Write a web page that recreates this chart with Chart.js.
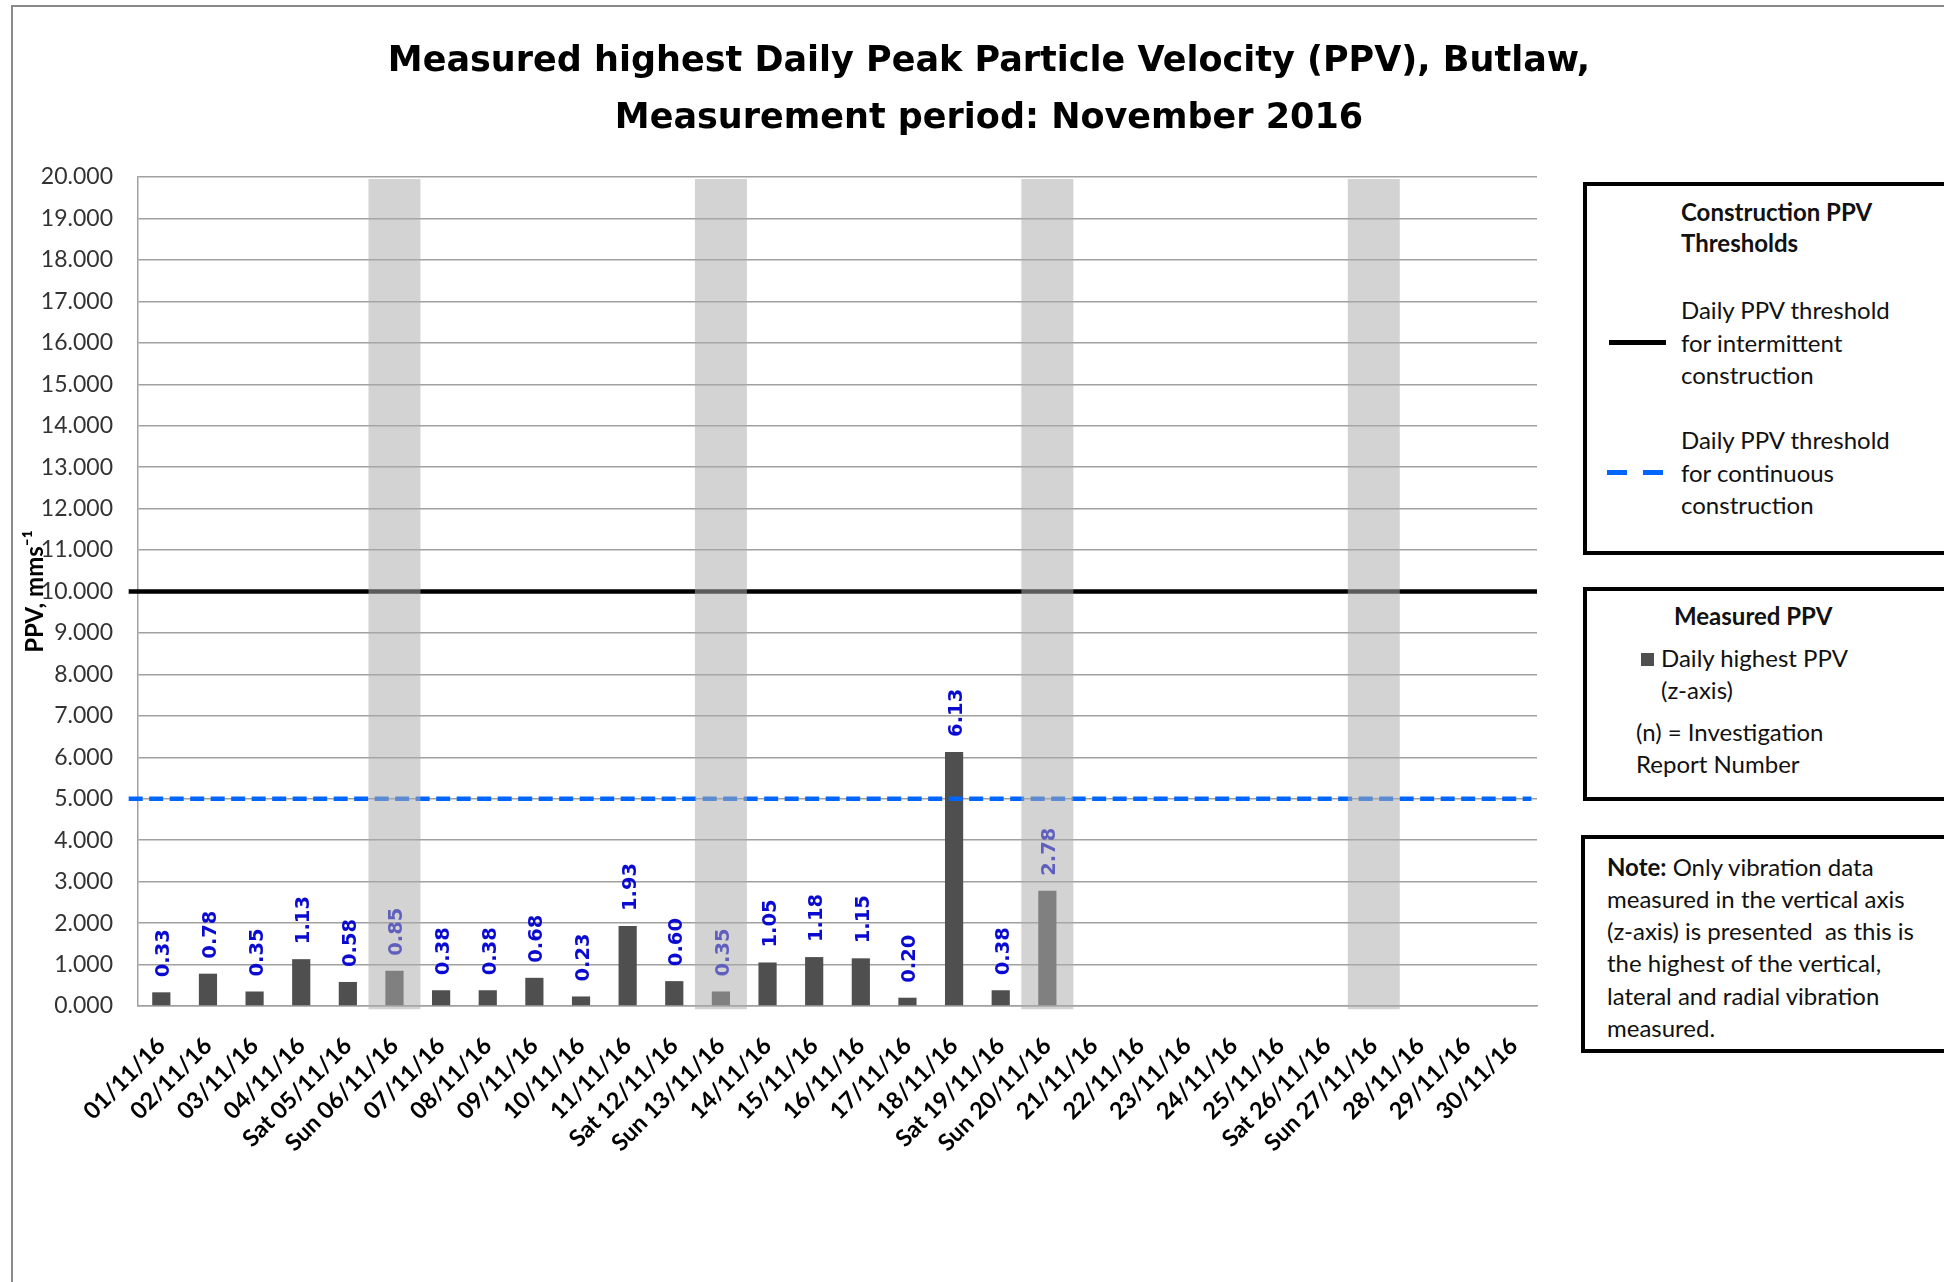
<!DOCTYPE html>
<html><head><meta charset="utf-8">
<script src="https://cdn.jsdelivr.net/npm/chart.js@4.4.1/dist/chart.umd.min.js"></script>
<style>
html,body{margin:0;padding:0;background:#fff;}
body{width:1944px;height:1282px;position:relative;overflow:hidden;font-family:Lato,sans-serif;color:#000;}
#c{position:absolute;left:0;top:0;}
.frame{position:absolute;left:11px;top:5px;width:2100px;height:1400px;border-top:2.5px solid #898989;border-left:2.5px solid #898989;}
.box{position:absolute;border:4px solid #000;background:#fff;box-sizing:border-box;}
.t{position:absolute;white-space:nowrap;font-size:24px;line-height:32px;height:32px;color:#111;}
.b{font-weight:bold;}
.ln{position:absolute;height:5px;}
</style></head><body>
<div class="frame"></div>
<canvas id="c" width="1944" height="1282"></canvas>

<div class="box" style="left:1583px;top:182px;width:420px;height:373px;"></div>
<div class="t b" style="left:1681px;top:196px;">Construction PPV</div>
<div class="t b" style="left:1681px;top:227px;">Thresholds</div>
<div class="ln" style="left:1609px;top:340px;width:57px;background:#000;"></div>
<div class="t" style="left:1681px;top:294px;">Daily PPV threshold</div>
<div class="t" style="left:1681px;top:327px;">for intermittent</div>
<div class="t" style="left:1681px;top:359px;">construction</div>
<div class="ln" style="left:1607px;top:470px;width:20px;background:#0066ff;"></div>
<div class="ln" style="left:1643px;top:470px;width:20px;background:#0066ff;"></div>
<div class="t" style="left:1681px;top:424px;">Daily PPV threshold</div>
<div class="t" style="left:1681px;top:457px;">for continuous</div>
<div class="t" style="left:1681px;top:489px;">construction</div>

<div class="box" style="left:1583px;top:587px;width:420px;height:214px;"></div>
<div class="t b" style="left:1674px;top:600px;">Measured PPV</div>
<div style="position:absolute;left:1641px;top:653px;width:13px;height:13px;background:#4f4f4f;"></div>
<div class="t" style="left:1661px;top:642px;">Daily highest PPV</div>
<div class="t" style="left:1661px;top:674px;">(z-axis)</div>
<div class="t" style="left:1636px;top:716px;">(n) = Investigation</div>
<div class="t" style="left:1636px;top:748px;">Report Number</div>

<div class="box" style="left:1581px;top:835px;width:420px;height:218px;"></div>
<div class="t" style="left:1607px;top:851px;"><b>Note:</b> Only vibration data</div>
<div class="t" style="left:1607px;top:883px;">measured in the vertical axis</div>
<div class="t" style="left:1607px;top:915px;">(z-axis) is presented&nbsp; as this is</div>
<div class="t" style="left:1607px;top:947px;">the highest of the vertical,</div>
<div class="t" style="left:1607px;top:980px;">lateral and radial vibration</div>
<div class="t" style="left:1607px;top:1012px;">measured.</div>

<script>
// ---- data ----
const dateLabels = ['01/11/16','02/11/16','03/11/16','04/11/16','Sat 05/11/16','Sun 06/11/16','07/11/16','08/11/16','09/11/16','10/11/16','11/11/16','Sat 12/11/16','Sun 13/11/16','14/11/16','15/11/16','16/11/16','17/11/16','18/11/16','Sat 19/11/16','Sun 20/11/16','21/11/16','22/11/16','23/11/16','24/11/16','25/11/16','Sat 26/11/16','Sun 27/11/16','28/11/16','29/11/16','30/11/16'];
const dailyPPV = [0.33,0.78,0.35,1.13,0.58,0.85,0.38,0.38,0.68,0.23,1.93,0.60,0.35,1.05,1.18,1.15,0.20,6.13,0.38,2.78,null,null,null,null,null,null,null,null,null,null];
const sundayBand = [null,null,null,null,null,[-0.08,19.95],null,null,null,null,null,null,[-0.08,19.95],null,null,null,null,null,null,[-0.08,19.95],null,null,null,null,null,null,[-0.08,19.95],null,null,null];
const intermittentThreshold = [{x:-0.2,y:10},{x:30,y:10}];
const continuousThreshold = [{x:-0.2,y:5},{x:29.88,y:5}];
const yTickMin = 0, yTickMax = 20, yTickStep = 1;
const titleLines = ['Measured highest Daily Peak Particle Velocity (PPV), Butlaw,','Measurement period: November 2016'];

const labelPlugin = {
  id: 'ppvLabels',
  afterDatasetDraw(chart, args) {
    if (args.index !== 0) return;
    const ctx = chart.ctx;
    ctx.save();
    ctx.font = 'bold 19.5px "DejaVu Sans"';
    ctx.fillStyle = '#0a0ad0';
    ctx.textAlign = 'left';
    ctx.textBaseline = 'alphabetic';
    args.meta.data.forEach((el, i) => {
      const v = dailyPPV[i];
      if (v == null) return;
      ctx.save();
      ctx.translate(el.x, el.y);
      ctx.rotate(-Math.PI / 2);
      ctx.fillText(v.toFixed(2), 15, 8);
      ctx.restore();
    });
    ctx.restore();
  }
};

function draw() {
  new Chart(document.getElementById('c'), {
    type: 'bar',
    data: {
      labels: dateLabels,
      datasets: [
        { label: 'Daily highest PPV (z-axis)', data: dailyPPV, backgroundColor: '#4f4f4f',
          barPercentage: 0.39, categoryPercentage: 1, grouped: false, order: 2 },
        { type: 'line', label: 'Daily PPV threshold for intermittent construction', data: intermittentThreshold,
          xAxisID: 'x2', borderColor: '#000', borderWidth: 4.5, pointRadius: 0, clip: false, order: 1 },
        { type: 'line', label: 'Daily PPV threshold for continuous construction', data: continuousThreshold,
          xAxisID: 'x2', borderColor: '#0066ff', borderWidth: 4.5, borderDash: [14, 6.5], pointRadius: 0, clip: false, order: 1 },
        { label: 'Weekend', data: sundayBand, backgroundColor: 'rgba(171,171,171,0.53)',
          barPercentage: 1.115, categoryPercentage: 1, grouped: false, clip: false, order: 0 }
      ]
    },
    options: {
      responsive: false,
      animation: false,
      layout: { padding: { left: 34, right: 0, top: 0, bottom: 0 } },
      plugins: {
        legend: { display: false },
        tooltip: { enabled: false },
        title: {
          display: true, text: titleLines, color: '#000',
          font: { family: '"DejaVu Sans"', weight: 'bold', size: 35, lineHeight: 57/35 },
          padding: { top: 33.5, bottom: 29.5 }
        }
      },
      scales: {
        x: {
          type: 'category', offset: true,
          grid: { display: false },
          border: { display: true, color: '#a0a0a0', width: 1.5 },
          ticks: { font: { family: 'Lato', weight: 'bold', size: 23.5 }, color: '#000',
                   maxRotation: 45, minRotation: 45, autoSkip: false, padding: 18 },
          afterFit: s => { s.height = 276; }
        },
        x2: { type: 'linear', display: false, offset: false, min: 0, max: 30 },
        y: {
          min: yTickMin, max: yTickMax,
          grid: { color: '#a0a0a0', lineWidth: 1.5, drawTicks: false },
          border: { display: true, color: '#a0a0a0', width: 1.5 },
          ticks: { stepSize: yTickStep, callback: v => v.toFixed(3), padding: 25,
                   font: { family: 'Lato', size: 23 }, color: '#333' },
          title: { display: true, text: 'PPV, mms⁻¹', color: '#000',
                   font: { family: 'Lato', weight: 'bold', size: 24 }, padding: { top: -13, bottom: 0 } },
          afterFit: s => { s.width = 104; }
        },
        yR: {
          type: 'linear', position: 'right', display: true,
          grid: { display: false }, border: { display: false }, ticks: { display: false },
          afterFit: s => { s.width = 407; }
        }
      }
    },
    plugins: [labelPlugin]
  });
}
if (document.fonts && document.fonts.load) {
  Promise.all([
    document.fonts.load('bold 35px "DejaVu Sans"'), document.fonts.load('23px Lato'),
    document.fonts.load('bold 23px Lato')
  ]).then(draw, draw);
} else { draw(); }
</script>
</body></html>
